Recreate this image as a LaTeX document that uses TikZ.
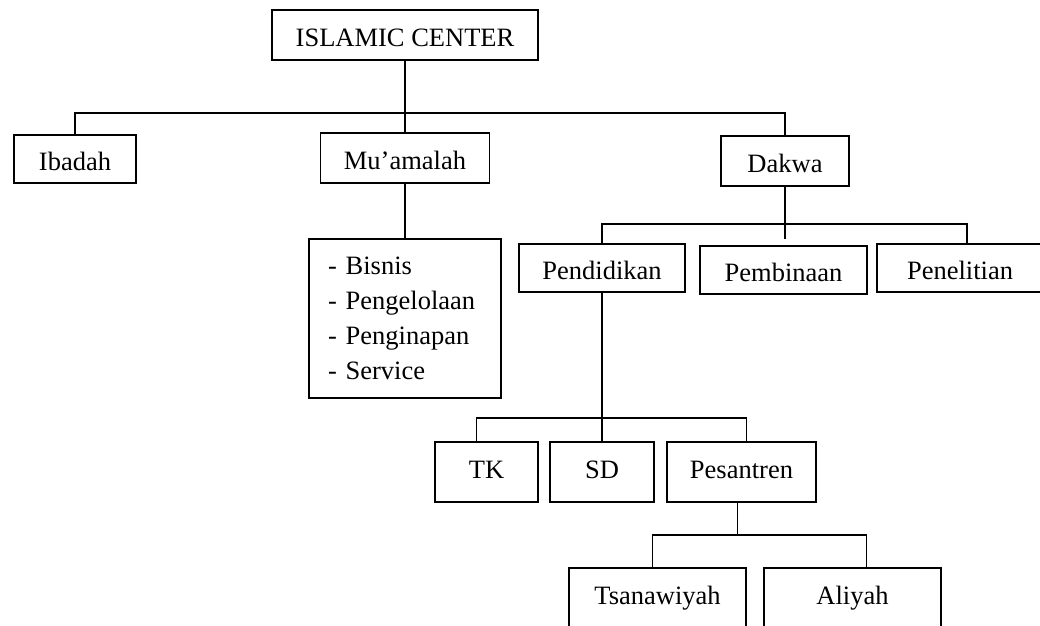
\documentclass[tikz,border=0pt]{standalone}
\usepackage{fontspec}
\setmainfont{Liberation Serif}

\begin{document}
\begin{tikzpicture}[x=1pt, y=-1pt, line width=1.9pt,
    box/.style={rectangle, draw, inner sep=0pt, minimum height=48pt, font=\fontsize{26.5}{32}\selectfont},
    unit/.style={box, text height=22pt, text depth=0pt},
    tallunit/.style={unit, minimum height=60pt, text depth=10pt}]
  \useasboundingbox (0,0) rectangle (1040,625);
  \clip (0,0) rectangle (1040,625);

  \node (center) [unit, minimum width=266pt, minimum height=50pt] at (405, 35) {ISLAMIC CENTER};
  \node (ibadah) [unit, minimum width=122pt] at (75, 159) {Ibadah};
  \node (muamalah) [unit, minimum width=169pt, minimum height=50pt] at (405, 158) {Mu’amalah};
  \node (dakwa) [unit, minimum width=128pt, minimum height=50pt] at (785, 161) {Dakwa};
  \node (usaha) [box, minimum width=192pt, minimum height=159pt, inner xsep=19pt, text width=154pt, align=left, font=\fontsize{26.5}{35}\selectfont] at (405, 318.5) {- Bisnis\\- Pengelolaan\\- Penginapan\\- Service};
  \node (pendidikan) [unit, minimum width=166pt] at (602, 268) {Pendidikan};
  \node (pembinaan) [unit, minimum width=167pt] at (783.5, 270) {Pembinaan};
  \node (penelitian) [unit, minimum width=166pt] at (960, 268) {Penelitian};
  \node (tk) [tallunit, minimum width=103pt] at (486.5, 472) {TK};
  \node (sd) [tallunit, minimum width=104pt] at (602, 472) {SD};
  \node (pesantren) [tallunit, minimum width=149pt] at (741.5, 472) {Pesantren};
  \node (tsanawiyah) [tallunit, minimum width=177pt] at (657.5, 598) {Tsanawiyah};
  \node (aliyah) [tallunit, minimum width=177pt] at (852.5, 598) {Aliyah};

  % first level
  \coordinate (bus1) at (405, 113);
  \draw (center) -- (muamalah);
  \draw (ibadah.north) |- (bus1) -| (dakwa.north);
  \draw (muamalah) -- (usaha);

  % dakwa
  \coordinate (bus2) at (785, 224);
  \coordinate (stub) at (785, 239);
  \draw (dakwa) -- (stub);
  \draw (pendidikan.north) |- (bus2) -| ([xshift=7pt]penelitian.north);

  % pendidikan
  \coordinate (bus3) at (602, 418);
  \draw (pendidikan) -- (sd);
  \draw ([xshift=-10pt]tk.north) |- (bus3) -| ([xshift=5pt]pesantren.north);

  % pesantren
  \coordinate (bus4) at (737.5, 535);
  \draw ([xshift=-4pt]pesantren.south) -- (bus4);
  \draw ([xshift=-5pt]tsanawiyah.north) |- (bus4) -| ([xshift=14pt]aliyah.north);
\end{tikzpicture}
\end{document}
